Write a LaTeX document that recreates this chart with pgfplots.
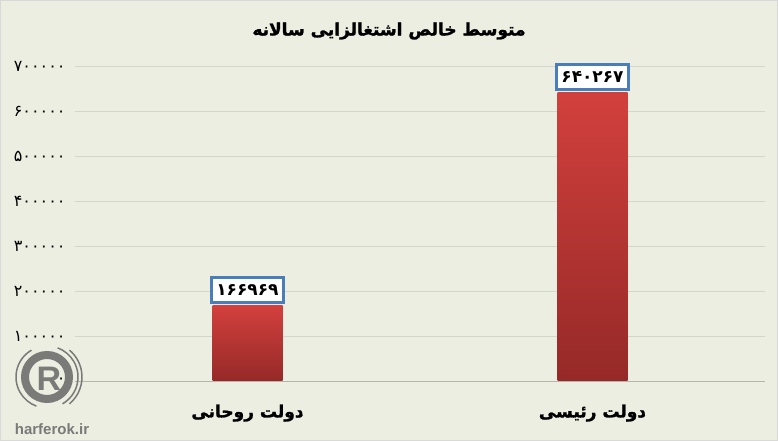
\documentclass[border=0pt]{standalone}
\usepackage{pgfplots}
\pgfplotsset{compat=1.18}
\usepackage{fontspec}
\setmainfont{DejaVu Sans}
\newfontfamily\arabicfont[Script=Arabic]{DejaVu Sans}
\newfontfamily\arabicheavy[Script=Arabic, FakeBold=1.5]{DejaVu Sans Bold}
\newfontfamily\latinfont{Liberation Sans}
\TeXXeTstate=1
\definecolor{bgc}{HTML}{EBEEE0}
\definecolor{gridc}{HTML}{D3D6CB}
\definecolor{bartop}{HTML}{D2403D}
\definecolor{barbot}{HTML}{952927}
\definecolor{boxblue}{HTML}{4A7EBB}
\definecolor{logoc}{HTML}{7A7A78}
\begin{document}
\begin{tikzpicture}[x=1pt,y=1pt]
\fill[bgc] (0,0) rectangle (778,441);
\draw[black!15] (0.5,0.5) rectangle (777.5,440.5);
\node[font=\arabicheavy\fontsize{17}{21}\selectfont] at (389,410) {\beginR متوسط خالص اشتغالزایی سالانه\endR};
\begin{axis}[
  at={(75pt,60pt)}, anchor=south west,
  scale only axis, width=690pt, height=315pt,
  xmin=-0.5, xmax=1.5, ymin=0, ymax=700000,
  axis x line*=bottom, axis y line*=left,
  x axis line style={draw=gridc!85!black, line width=0.8pt},
  y axis line style={draw=none},
  tick style={draw=none},
  scaled y ticks=false,
  ytick={0,100000,200000,300000,400000,500000,600000,700000},
  yticklabels={۰,۱۰۰۰۰۰,۲۰۰۰۰۰,۳۰۰۰۰۰,۴۰۰۰۰۰,۵۰۰۰۰۰,۶۰۰۰۰۰,۷۰۰۰۰۰},
  yticklabel style={font=\fontsize{16}{18}\selectfont, xshift=-6pt},
  ymajorgrids, major grid style={draw=gridc, line width=0.8pt},
  xtick={0,1},
  xticklabels={{\beginR دولت روحانی\endR},{\beginR دولت رئیسی\endR}},
  xticklabel style={font=\arabicheavy\fontsize{17}{20}\selectfont, yshift=-20pt},
  clip=false,
  every node near coord/.append style={anchor=south, yshift=2pt, fill=white, draw=boxblue, line width=3pt, inner xsep=5pt, inner ysep=7pt, font=\bfseries\fontsize{17}{19}\selectfont, text=black},
]
\addplot[ybar, bar width=70pt, draw=none, top color=bartop, bottom color=barbot, bar shift=0pt]
  coordinates {(0,166969)};
\addplot[ybar, bar width=70pt, draw=none, top color=bartop, bottom color=barbot, bar shift=0pt]
  coordinates {(1,640267)};
\addplot[ybar, bar width=70pt, draw=none, fill=none, bar shift=0pt,
  nodes near coords, point meta=explicit symbolic]
  coordinates {(0,166969) [۱۶۶۹۶۹] (1,640267) [۶۴۰۲۶۷]};
\end{axis}
% watermark
\begin{scope}[logoc]
\draw[line width=8pt] (47,64) circle (22);
\draw[line width=1.5pt] (47,64) ++(-60:31) arc (-60:70:31);
\draw[line width=1.5pt] (47,64) ++(-50:35) arc (-50:50:35);
\draw[line width=1.5pt] (47,64) ++(120:31) arc (120:250:31);
\node[font=\latinfont\bfseries\fontsize{34}{34}\selectfont] at (49,62) {R};
\node[font=\latinfont\bfseries\fontsize{15}{18}\selectfont] at (52,12) {harferok.ir};
\end{scope}
\end{tikzpicture}
\end{document}
